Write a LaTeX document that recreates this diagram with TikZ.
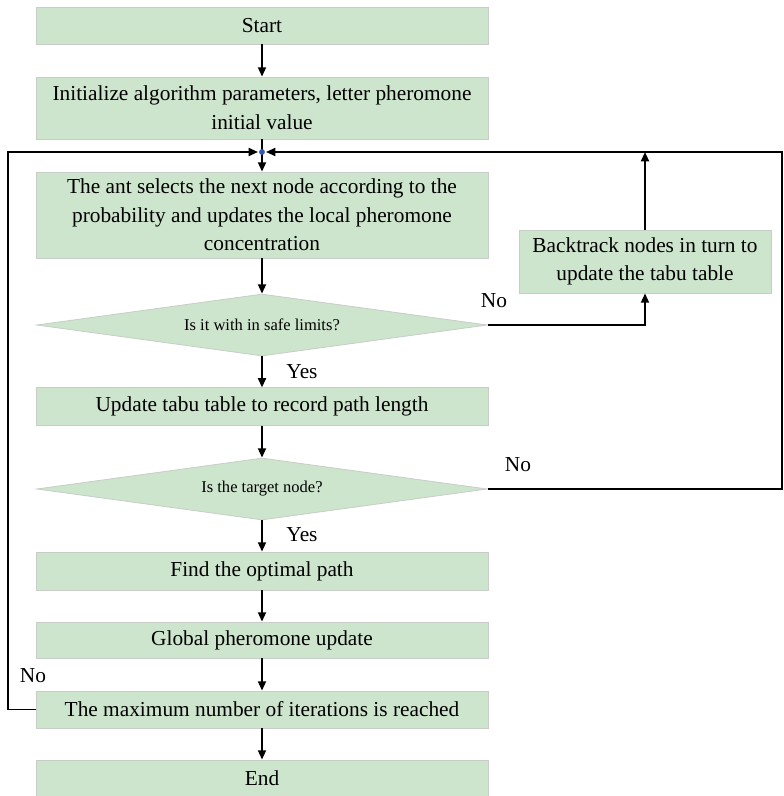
\documentclass[tikz,border=0pt]{standalone}
\usepackage{fontspec}
\setmainfont{Liberation Serif}
\usetikzlibrary{arrows.meta,shapes.geometric}
\definecolor{boxgreen}{RGB}{205,228,205}
\definecolor{boxedge}{RGB}{200,205,200}
\definecolor{dotblue}{RGB}{50,90,180}
\tikzset{
  stepbox/.style={draw=boxedge, line width=0.6pt, fill=boxgreen, minimum width=339pt, inner sep=0pt, align=center, font=\fontsize{16}{21.5}\selectfont},
  decision/.style={diamond, aspect=7, draw=boxedge, line width=0.6pt, fill=boxgreen, minimum width=338pt, minimum height=46.5pt, inner sep=0pt, font=\fontsize{12.4}{15}\selectfont},
  lbl/.style={font=\fontsize{16}{19}\selectfont, inner sep=0pt},
  conn/.style={line width=1.4pt, black},
  arr/.style={conn, -{Triangle[length=7pt,width=6pt]}},
}
\begin{document}
\begin{tikzpicture}[x=0.75pt,y=-0.75pt]
\useasboundingbox (0,0) rectangle (784,796);
\node[stepbox, minimum height=27.75pt] (start) at (262,25.5) {Start};
\node[stepbox, minimum height=46.5pt] (init) at (262,108) {Initialize algorithm parameters, letter pheromone\\initial value};
\coordinate (J) at (262,152);
\node[stepbox, minimum height=64.5pt] (ant) at (262,215) {The ant selects the next node according to the\\probability and updates the local pheromone\\concentration};
\node[decision] (d1) at (262,325) {Is it with in safe limits?};
\node[stepbox, minimum height=28pt] (upd) at (262,406.5) {Update tabu table to record path length};
\node[decision] (d2) at (262,489) {Is the target node?};
\node[stepbox, minimum height=28.5pt] (find) at (262,571) {Find the optimal path};
\node[stepbox, minimum height=27pt] (glob) at (262,640) {Global pheromone update};
\node[stepbox, minimum height=27.75pt] (max) at (262,709.5) {The maximum number of iterations is reached};
\node[stepbox, minimum height=27pt] (end) at (262,778) {End};
\node[stepbox, minimum width=189pt, minimum height=47.25pt] (back) at (645,261.5) {Backtrack nodes in turn to\\update the tabu table};
\coordinate (R) at (782,489);
\coordinate (L) at (8,709.5);

\draw[arr] (start) -- (init);
\draw[conn] (init.south) -- (J);
\draw[arr] (J) -- (ant.north);
\draw[arr] (ant) -- (d1);
\draw[arr] (d1) -- (upd);
\draw[arr] (upd) -- (d2);
\draw[arr] (d2) -- (find);
\draw[arr] (find) -- (glob);
\draw[arr] (glob) -- (max);
\draw[arr] (max) -- (end);
\draw[arr] (d1.east) -| (back.south);
\draw[arr] (back.north) -- (back.north |- J);
\draw[arr] (d2.east) -- (R) |- ([xshift=3pt]J);
\draw[arr] (max.west) -- (L) |- ([xshift=-3pt]J);
\fill[dotblue] (J) circle (2.2pt);

\node[lbl] at (302,372) {Yes};
\node[lbl] at (302,535) {Yes};
\node[lbl] at (494,301) {No};
\node[lbl] at (518,465) {No};
\node[lbl] at (33,676) {No};
\end{tikzpicture}
\end{document}
